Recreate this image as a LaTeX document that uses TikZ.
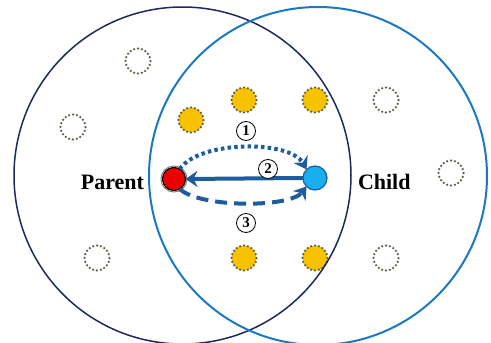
\documentclass[tikz,border=0pt]{standalone}
\usepackage{fontspec}
\setmainfont{Liberation Serif}
\usetikzlibrary{arrows.meta}
\definecolor{navyring}{HTML}{1C2A5E}
\definecolor{bluering}{HTML}{1B78C2}
\definecolor{linkblue}{HTML}{1F5C9E}
\definecolor{gold}{HTML}{F7C200}
\definecolor{skyblue}{HTML}{1AAEEF}
\definecolor{dotgray}{HTML}{5E5E48}
\tikzset{
  every node/.style={inner sep=0pt, outer sep=0pt},
  neighbour/.style={circle, minimum size=25pt, draw=dotgray, line width=2.5pt,
    dash pattern=on 0pt off 3.9pt, line cap=round},
  member/.style={neighbour, fill=gold},
  parentnode/.style={circle, minimum size=23pt, fill=red!92!black, draw=black, line width=1.2pt},
  childnode/.style={circle, minimum size=24pt, fill=skyblue, draw=linkblue, line width=1.2pt},
  rolelabel/.style={font=\fontsize{22}{24}\selectfont\bfseries},
  stepnum/.style={circle, draw=black, fill=white, line width=0.8pt, minimum size=19pt,
    font=\fontsize{15}{16}\selectfont\bfseries},
  link/.style={draw=linkblue, line width=4pt, -{Stealth[length=12pt,width=16pt,inset=4pt]}},
}
\begin{document}
\begin{tikzpicture}[x=1pt,y=-1pt]
\useasboundingbox (0,0) rectangle (491,343);

% nodes outside the shared region
\node[neighbour] (n1) at (138,61) {};
\node[neighbour] (n2) at (73,127) {};
\node[neighbour] (n3) at (97,258) {};
\node[neighbour] (n4) at (386,100) {};
\node[neighbour] (n5) at (451,173) {};
\node[neighbour] (n6) at (386,258) {};

% nodes inside the shared region
\node[member] (m1) at (191,120) {};
\node[member] (m2) at (244,100) {};
\node[member] (m3) at (315,100) {};
\node[member] (m4) at (244,258) {};
\node[member] (m5) at (315,258) {};

% coverage ranges of the two nodes
\draw[navyring, line width=1.5pt] (182.5,175.5) circle (168.5);
\draw[bluering, line width=2pt] (318,176) circle (169);

% parent and child
\node[parentnode] (p) at (174,179) {};
\draw[gray, line width=1pt] (p.center) circle (13);
\node[childnode] (c) at (315,178) {};

\node[rolelabel, anchor=east] (pl) at (144,182) {Parent};
\node[rolelabel, anchor=west] (cl) at (358,182) {Child};

% message exchange
\draw[link, dash pattern=on 3.5pt off 3.2pt] (p.60) .. controls (200,140) and (290,140) .. (c.135);
\draw[link] (c.west) -- (p.east);
\draw[link, dash pattern=on 12pt off 7pt] (p.-60) .. controls (200,208) and (290,208) .. (c.-135);

\node[stepnum] (s1) at (246,131) {1};
\node[stepnum] (s2) at (268,169) {2};
\node[stepnum] (s3) at (246,223) {3};
\end{tikzpicture}
\end{document}
